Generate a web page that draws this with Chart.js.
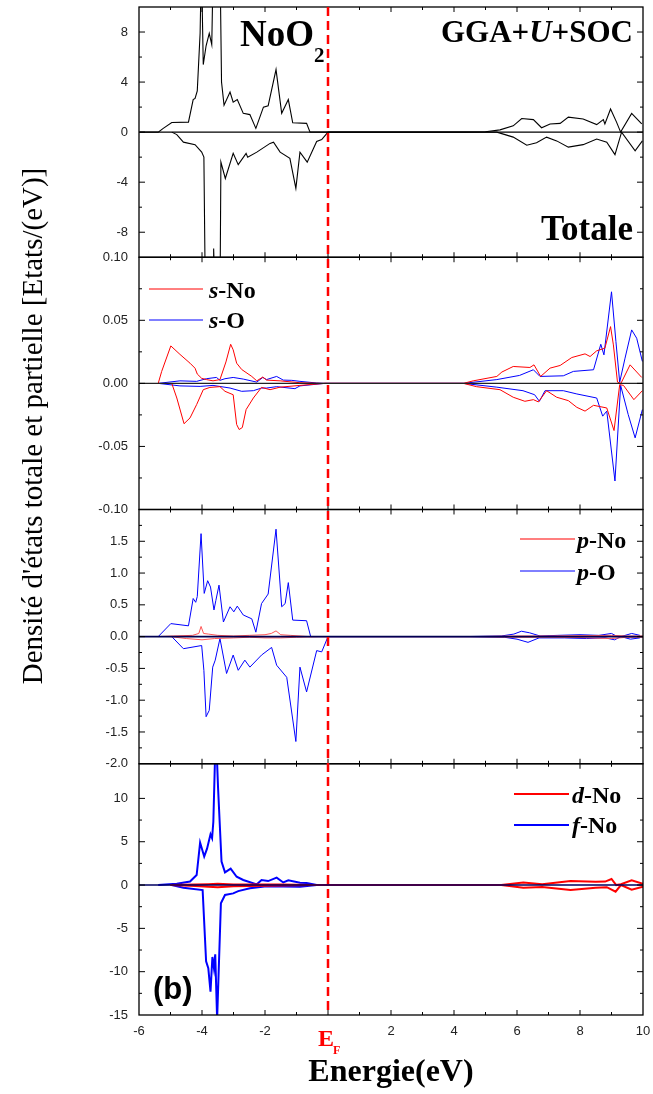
<!DOCTYPE html>
<html>
<head>
<meta charset="utf-8">
<title>NoO2 - DOS GGA+U+SOC</title>
<script src="https://cdn.jsdelivr.net/npm/chart.js@4.4.1/dist/chart.umd.min.js"></script>
<style>
  html, body { margin: 0; padding: 0; background: #fff; }
</style>
</head>
<body>
<canvas id="dosChart" width="653" height="1094"></canvas>
<script>
// Energy axis (eV), E_F = 0
const energyMin = -6;
const energyMax = 10;

// Totale (up / down)
const totUpE = [-5.97, -5.39, -5.23, -4.96, -4.43, -4.28, -4.22, -4.15, -4.06, -4.03, -4.0, -3.96, -3.87, -3.77, -3.69, -3.64, -3.55, -3.43, -3.38, -3.30, -3.11, -3.01, -2.88, -2.69, -2.48, -2.29, -2.05, -1.90, -1.65, -1.47, -1.26, -1.12, -0.68, -0.57,
  4.30, 5.0, 5.46, 5.88, 6.15, 6.52, 6.78, 7.05, 7.37, 7.63, 8.10, 8.53, 8.74, 8.79, 8.97, 9.16, 9.29, 9.64, 9.96];
const totUpV = [0, 0, 0.3, 0.77, 0.8, 2.6, 2.7, 3.3, 7.9, 12, 11, 5.4, 6.9, 7.9, 7.0, 14, 18, 14, 4, 2.15, 3.2, 2.4, 2.6, 1.5, 1.4, 0.3, 2.0, 2.1, 5.0, 1.5, 2.6, 0.75, 0.7, 0,
  0, 0.03, 0.18, 0.5, 1.09, 1.0, 0.35, 0.65, 0.7, 1.2, 1.05, 0.6, 1.0, 0.65, 1.85, 0.8, 0, 1.5, 0.65];
const totDnE = [-4.96, -4.80, -4.59, -4.22, -4.01, -3.94, -3.89, -3.70, -3.65, -3.63, -3.61, -3.55, -3.43, -3.40, -3.26, -3.01, -2.85, -2.60, -2.55, -2.26, -1.84, -1.73, -1.52, -1.21, -1.02, -0.89, -0.66, -0.36, -0.2, 0,
  5.36, 5.88, 6.31, 6.62, 6.94, 7.26, 7.63, 8.10, 8.53, 8.85, 9.11, 9.32, 9.75, 9.98];
const totDnV = [0, -0.2, -0.8, -1.0, -1.6, -2.0, -14, -13, -11, -9.3, -11, -16, -14, -2.4, -3.7, -1.7, -2.6, -1.7, -2.0, -1.6, -0.9, -0.8, -1.6, -2.1, -4.5, -1.6, -2.4, -0.75, -0.6, 0,
  0, -0.4, -1.05, -0.85, -0.4, -0.7, -1.2, -1.0, -0.55, -0.8, -1.8, 0, -1.5, -0.7];

// s-No / s-O
const sNoUpE = [-5.39, -5.28, -4.99, -4.70, -4.38, -4.22, -4.15, -4.01, -3.86, -3.65, -3.43, -3.24, -3.09, -3.01, -2.90, -2.74, -2.42, -2.26, -2.07, -1.95, -1.52, -0.89, -0.2,
  4.30, 4.61, 5.36, 5.52, 5.88, 6.41, 6.54, 6.75, 7.05, 7.37, 7.74, 8.16, 8.32, 8.53, 8.79, 8.97, 9.06, 9.19, 9.30, 9.59, 9.96];
const sNoUpV = [0, 0.0095, 0.0297, 0.023, 0.016, 0.012, 0.0074, 0.004, 0.003, 0.002, 0.003, 0.017, 0.031, 0.0266, 0.016, 0.011, 0.0055, 0.002, 0.005, 0.0026, 0.002, 0.0005, 0,
  0, 0.002, 0.0055, 0.009, 0.0134, 0.0126, 0.0147, 0.0055, 0.0121, 0.0142, 0.0205, 0.0234, 0.0213, 0.0258, 0.0279, 0.045, 0.0305, 0.001, 0, 0.0147, 0.0047];
const sNoDnE = [-4.96, -4.80, -4.57, -4.38, -4.17, -3.96, -3.75, -3.43, -3.27, -3.01, -2.90, -2.82, -2.72, -2.60, -2.37, -2.11, -1.84, -1.52, -0.89, -0.1,
  4.30, 4.71, 5.46, 5.88, 6.25, 6.52, 6.68, 6.94, 7.26, 7.63, 7.90, 8.16, 8.43, 8.85, 9.08, 9.26, 9.38, 9.71, 9.98];
const sNoDnV = [0, -0.0116, -0.032, -0.0274, -0.0168, -0.005, -0.0032, -0.0026, -0.0063, -0.009, -0.0326, -0.0366, -0.035, -0.0208, -0.0116, -0.0032, -0.005, -0.003, -0.0016, 0,
  0, -0.0026, -0.005, -0.011, -0.0142, -0.0129, -0.0147, -0.0058, -0.011, -0.0137, -0.019, -0.022, -0.0174, -0.0195, -0.0374, -0.001, -0.0016, -0.0129, -0.0058];
const sOUpE = [-5.39, -4.70, -4.17, -3.86, -3.54, -3.43, -3.27, -3.01, -2.69, -2.26, -2.07, -1.95, -1.63, -1.42, -1.15, -0.89, -0.36, -0.1,
  4.30, 5.36, 6.08, 6.52, 6.73, 7.47, 7.79, 8.43, 8.66, 8.76, 9.00, 9.14, 9.26, 9.43, 9.64, 9.80, 9.98];
const sOUpV = [0, 0.002, 0.0016, 0.0037, 0.0047, 0.0024, 0.0037, 0.0047, 0.0034, 0.001, 0.0047, 0.003, 0.0055, 0.0026, 0.0024, 0.0016, 0.0003, 0,
  0, 0.003, 0.0063, 0.0108, 0.0055, 0.006, 0.0095, 0.0108, 0.031, 0.0226, 0.0726, 0.0332, 0.001, 0.02, 0.0424, 0.0358, 0.0174];
const sODnE = [-5.39, -4.70, -4.06, -3.65, -3.11, -2.74, -2.37, -2.11, -1.95, -1.63, -1.05, -0.89, -0.1,
  4.30, 5.36, 6.19, 6.56, 6.71, 6.89, 7.47, 7.90, 8.53, 8.72, 8.85, 9.11, 9.29, 9.53, 9.75, 9.98];
const sODnV = [0, -0.002, -0.0024, -0.0016, -0.0037, -0.0063, -0.0058, -0.0037, -0.0037, -0.0026, -0.0042, -0.002, 0,
  0, -0.003, -0.0058, -0.009, -0.0142, -0.0058, -0.0058, -0.0084, -0.0116, -0.026, -0.022, -0.0774, -0.0016, -0.0247, -0.0432, -0.0208];

// p-No / p-O
const pNoUpE = [-5.4, -4.9, -4.3, -4.1, -4.03, -3.95, -3.8, -3.5, -3.0, -2.5, -2.0, -1.8, -1.65, -1.5, -1.2, -0.6, 4.5, 6.0, 7.0, 8.0, 9.0, 9.5, 10];
const pNoUpV = [0, 0.01, 0.02, 0.05, 0.16, 0.05, 0.04, 0.02, 0.01, 0.02, 0.03, 0.05, 0.09, 0.03, 0.02, 0, 0, 0.01, 0.01, 0.015, 0.02, 0.01, 0.01];
const pNoDnE = [-5.0, -4.5, -4.0, -3.6, -3.0, -2.5, -2.0, -1.5, -1.0, -0.3, 4.5, 6.0, 7.0, 8.0, 9.0, 9.5, 10];
const pNoDnV = [0, -0.03, -0.05, -0.03, -0.02, -0.01, -0.02, -0.02, -0.01, 0, 0, -0.01, -0.01, -0.015, -0.03, -0.01, -0.01];
const pOUpE = [-5.39, -4.99, -4.43, -4.28, -4.20, -4.15, -4.03, -3.93, -3.82, -3.73, -3.62, -3.56, -3.46, -3.32, -3.11, -2.99, -2.88, -2.69, -2.42, -2.29, -2.11, -1.90, -1.65, -1.47, -1.36, -1.26, -1.12, -0.68, -0.55,
  4.3, 5.5, 5.9, 6.14, 6.4, 6.73, 7.3, 8.0, 8.6, 9.0, 9.15, 9.3, 9.64, 9.9];
const pOUpV = [0, 0.205, 0.17, 0.6, 0.54, 0.63, 1.62, 0.68, 0.88, 0.78, 0.42, 0.57, 0.81, 0.23, 0.47, 0.39, 0.48, 0.34, 0.28, 0.07, 0.52, 0.67, 1.69, 0.47, 0.52, 0.85, 0.26, 0.25, 0,
  0, 0.01, 0.04, 0.085, 0.06, 0.01, 0.02, 0.03, 0.02, 0.05, 0.01, 0, 0.05, 0.02];
const pODnE = [-4.96, -4.59, -4.01, -3.94, -3.87, -3.77, -3.66, -3.58, -3.43, -3.22, -3.01, -2.85, -2.64, -2.48, -2.11, -1.79, -1.63, -1.31, -1.02, -0.89, -0.68, -0.36, -0.2, 0,
  4.3, 5.6, 6.0, 6.35, 6.7, 7.5, 8.2, 8.8, 9.1, 9.3, 9.6, 9.9];
const pODnV = [0, -0.19, -0.14, -0.53, -1.26, -1.16, -0.48, -0.37, -0.03, -0.58, -0.29, -0.53, -0.37, -0.48, -0.29, -0.17, -0.45, -0.64, -1.65, -0.48, -0.87, -0.22, -0.24, 0,
  0, -0.01, -0.04, -0.09, -0.02, -0.02, -0.03, -0.02, -0.05, 0, -0.04, -0.02];

// d-No / f-No
const dNoUpE = [-5.0, -4.2, -3.8, -3.5, -3.0, -2.5, -1.5, -0.5, 5.5, 6.2, 6.8, 7.7, 8.5, 8.8, 9.0, 9.15, 9.3, 9.64, 10];
const dNoUpV = [0, 0.05, 0.1, 0.15, 0.05, 0.05, 0.05, 0, 0, 0.3, 0.08, 0.46, 0.38, 0.4, 0.7, 0, 0.1, 0.54, 0.15];
const dNoDnE = [-5.0, -4.2, -3.8, -3.5, -3.0, -2.5, -1.5, -0.5, 5.5, 6.2, 6.8, 7.7, 8.5, 8.85, 9.13, 9.3, 9.64, 10];
const dNoDnV = [0, -0.1, -0.2, -0.25, -0.15, -0.1, -0.05, 0, 0, -0.3, -0.23, -0.58, -0.3, -0.25, -0.77, 0, -0.54, -0.2];
const fNoUpE = [-5.39, -4.80, -4.38, -4.17, -4.06, -3.93, -3.84, -3.73, -3.68, -3.64, -3.59, -3.54, -3.49, -3.38, -3.27, -3.09, -2.90, -2.69, -2.26, -2.11, -1.90, -1.63, -1.42, -1.26, -0.89, -0.68, -0.36];
const fNoUpV = [0, 0.15, 0.4, 1.15, 4.9, 3.3, 4.2, 5.85, 5.4, 7.3, 14.2, 16, 11.2, 2.7, 1.46, 1.9, 0.96, 0.58, 0.08, 0.58, 0.46, 0.85, 0.3, 0.54, 0.27, 0.23, 0];
const fNoDnE = [-4.96, -4.59, -3.98, -3.87, -3.80, -3.73, -3.67, -3.62, -3.58, -3.52, -3.40, -3.27, -3.01, -2.85, -2.48, -1.95, -0.89, -0.36];
const fNoDnV = [0, -0.3, -0.58, -8.8, -9.6, -12.3, -8.3, -9.6, -8.0, -15.5, -2.1, -1.15, -0.96, -0.7, -0.38, -0.15, -0.2, 0];

const sansFont = "'Liberation Sans', Arial, sans-serif";
const serifFont = "'Liberation Serif', 'Times New Roman', serif";

function pts(es, vs) {
  return es.map((e, i) => ({ x: e, y: vs[i] }));
}

function curve(label, es, vs, color, axis, width) {
  return {
    label: label,
    data: pts(es, vs),
    borderColor: color,
    backgroundColor: color,
    borderWidth: width,
    pointRadius: 0,
    tension: 0,
    fill: false,
    yAxisID: axis,
  };
}

const datasets = [
  curve("Totale", totUpE, totUpV, "#000000", "yTot", 1.1),
  curve("Totale", totDnE, totDnV, "#000000", "yTot", 1.1),
  curve("s-No", sNoUpE, sNoUpV, "#ff0000", "yS", 1),
  curve("s-No", sNoDnE, sNoDnV, "#ff0000", "yS", 1),
  curve("s-O", sOUpE, sOUpV, "#0000ff", "yS", 1),
  curve("s-O", sODnE, sODnV, "#0000ff", "yS", 1),
  curve("p-No", pNoUpE, pNoUpV, "#ff5555", "yP", 1),
  curve("p-No", pNoDnE, pNoDnV, "#ff5555", "yP", 1),
  curve("p-O", pOUpE, pOUpV, "#0000ff", "yP", 1),
  curve("p-O", pODnE, pODnV, "#0000ff", "yP", 1),
  curve("d-No", dNoUpE, dNoUpV, "#ff0000", "yDF", 2),
  curve("d-No", dNoDnE, dNoDnV, "#ff0000", "yDF", 2),
  curve("f-No", fNoUpE, fNoUpV, "#0000ff", "yDF", 2),
  curve("f-No", fNoDnE, fNoDnV, "#0000ff", "yDF", 2),
];

const panelIds = ["yTot", "yS", "yP", "yDF"];
const zeroColors = ["#000000", "#222222", "#000050", "#000060"];

function yAxis(min, max, step, weight, showLabel, digits) {
  return {
    type: "linear",
    position: "left",
    stack: "dos",
    stackWeight: weight,
    min: min,
    max: max,
    grid: { display: false, drawTicks: false },
    border: { display: false },
    ticks: {
      stepSize: step,
      autoSkip: false,
      padding: 11,
      color: "#222",
      font: { family: sansFont, size: 13 },
      callback: v => showLabel(v) ? v.toFixed(digits) : "",
    },
    afterFit: s => {
      s.width = 139;
      s.paddingTop = 0;
      s.paddingBottom = 0;
    },
  };
}

function hline(ctx, x1, y1, x2, y2) {
  ctx.beginPath();
  ctx.moveTo(x1, y1);
  ctx.lineTo(x2, y2);
  ctx.stroke();
}

// text with an italic first letter, e.g. "s-No"
function mixedText(ctx, label, x, y, size) {
  const parts = label.split("-");
  ctx.font = "italic bold " + size + "px " + serifFont;
  ctx.fillText(parts[0], x, y);
  const w = ctx.measureText(parts[0]).width;
  ctx.font = "bold " + size + "px " + serifFont;
  ctx.fillText("-" + parts[1], x + w, y);
}

function legendEntry(ctx, chart, label, x1, x2, y, textX, textY, width) {
  const ds = chart.data.datasets.find(d => d.label === label);
  ctx.strokeStyle = ds.borderColor;
  ctx.lineWidth = width;
  hline(ctx, x1, y, x2, y);
  ctx.fillStyle = "#000";
  mixedText(ctx, label, textX, textY, 24);
}

const panelDecor = {
  id: "panelDecor",
  beforeDatasetDraw(chart, args) {
    const ctx = chart.ctx;
    const a = chart.chartArea;
    const ys = args.meta.yScale;
    ctx.save();
    ctx.beginPath();
    ctx.rect(a.left, ys.top, a.right - a.left, ys.bottom - ys.top);
    ctx.clip();
  },
  afterDatasetDraw(chart) {
    chart.ctx.restore();
  },
  afterDraw(chart) {
    const ctx = chart.ctx;
    const a = chart.chartArea;
    const xs = chart.scales.x;
    ctx.save();

    // zero lines
    panelIds.forEach((id, i) => {
      const s = chart.scales[id];
      const y = s.getPixelForValue(0);
      ctx.strokeStyle = zeroColors[i];
      ctx.lineWidth = i < 2 ? 1.1 : 1.6;
      hline(ctx, a.left, y, a.right, y);
    });

    // frames + inward ticks
    ctx.strokeStyle = "#000";
    ctx.lineWidth = 1.3;
    panelIds.forEach(id => {
      const s = chart.scales[id];
      ctx.strokeRect(a.left, s.top, a.right - a.left, s.bottom - s.top);
      ctx.lineWidth = 1;
      s.ticks.forEach(t => {
        if (t.value <= s.min || t.value >= s.max) return;
        const y = s.getPixelForValue(t.value);
        const len = t.label !== "" ? 6 : 3;
        hline(ctx, a.left, y, a.left + len, y);
        hline(ctx, a.right, y, a.right - len, y);
      });
      xs.ticks.forEach(t => {
        if (t.value <= xs.min || t.value >= xs.max) return;
        const x = xs.getPixelForValue(t.value);
        const len = t.value % 2 === 0 ? 5 : 3;
        hline(ctx, x, s.top, x, s.top + len);
        hline(ctx, x, s.bottom, x, s.bottom - len);
      });
      ctx.lineWidth = 1.3;
    });

    // Fermi level
    const xF = xs.getPixelForValue(0);
    ctx.strokeStyle = "#ff0000";
    ctx.lineWidth = 2.5;
    ctx.setLineDash([9, 5]);
    hline(ctx, xF, a.top, xF, a.bottom);
    ctx.setLineDash([]);

    ctx.fillStyle = "#ff0000";
    ctx.textAlign = "left";
    ctx.textBaseline = "alphabetic";
    ctx.font = "bold 24px " + serifFont;
    ctx.fillText("E", xF - 10, 1046);
    ctx.font = "bold 12px " + serifFont;
    ctx.fillText("F", xF + 5, 1054);

    // titles
    ctx.fillStyle = "#000";
    ctx.font = "bold 32px " + serifFont;
    ctx.textAlign = "center";
    ctx.fillText("Energie(eV)", 391, 1081);

    ctx.save();
    ctx.translate(42, 426);
    ctx.rotate(-Math.PI / 2);
    ctx.font = "29px " + serifFont;
    ctx.fillText("Densité d'états totale et partielle [Etats/(eV)]", 0, 0);
    ctx.restore();

    // annotations
    ctx.textAlign = "left";
    ctx.font = "bold 37px " + serifFont;
    ctx.fillText("NoO", 240, 46);
    const wNoO = ctx.measureText("NoO").width;
    ctx.font = "bold 21px " + serifFont;
    ctx.fillText("2", 240 + wNoO, 62);

    const gga = [["GGA+", "bold"], ["U", "italic bold"], ["+SOC", "bold"]];
    let total = 0;
    gga.forEach(p => { ctx.font = p[1] + " 31px " + serifFont; total += ctx.measureText(p[0]).width; });
    let gx = 633 - total;
    gga.forEach(p => {
      ctx.font = p[1] + " 31px " + serifFont;
      ctx.fillText(p[0], gx, 42);
      gx += ctx.measureText(p[0]).width;
    });

    ctx.textAlign = "right";
    ctx.font = "bold 35px " + serifFont;
    ctx.fillText("Totale", 633, 240);

    ctx.textAlign = "left";
    ctx.font = "bold 31px " + sansFont;
    ctx.fillText("(b)", 153, 999);

    // legends
    legendEntry(ctx, chart, "s-No", 149, 203, 289, 209, 298, 1);
    legendEntry(ctx, chart, "s-O", 149, 203, 320, 209, 328, 1);
    legendEntry(ctx, chart, "p-No", 520, 575, 539, 577, 548, 1.5);
    legendEntry(ctx, chart, "p-O", 520, 575, 571, 577, 580, 1);
    legendEntry(ctx, chart, "d-No", 514, 569, 794, 572, 803, 2);
    legendEntry(ctx, chart, "f-No", 514, 569, 825, 572, 833, 2);

    ctx.restore();
  },
};

new Chart(document.getElementById("dosChart").getContext("2d"), {
  type: "line",
  data: { datasets: datasets },
  options: {
    responsive: false,
    animation: false,
    layout: { padding: { left: 0, right: 10, top: 7, bottom: 0 } },
    plugins: {
      legend: { display: false },
      tooltip: { enabled: false },
    },
    scales: {
      x: {
        type: "linear",
        min: energyMin,
        max: energyMax,
        grid: { display: false, drawTicks: false },
        border: { display: false },
        ticks: {
          stepSize: 1,
          autoSkip: false,
          maxRotation: 0,
          padding: 9,
          color: "#222",
          font: { family: sansFont, size: 13 },
          callback: v => (v % 2 === 0 && v !== 0) ? String(v) : "",
        },
        afterFit: s => {
          s.height = 79;
          s.paddingLeft = 0;
          s.paddingRight = 0;
        },
      },
      // stacked panels: the last one listed is placed on top
      yDF: yAxis(-15, 14, 2.5, 251, v => v % 5 === 0, 0),
      yP: yAxis(-2, 2, 0.25, 254, v => Math.abs(Math.round(v * 4)) % 2 === 0 && v < 2, 1),
      yS: yAxis(-0.1, 0.1, 0.025, 252, v => Math.abs(Math.round(v * 40)) % 2 === 0, 2),
      yTot: yAxis(-10, 10, 2, 250, v => v % 4 === 0 && Math.abs(v) < 10, 0),
    },
  },
  plugins: [panelDecor],
});
</script>
</body>
</html>
